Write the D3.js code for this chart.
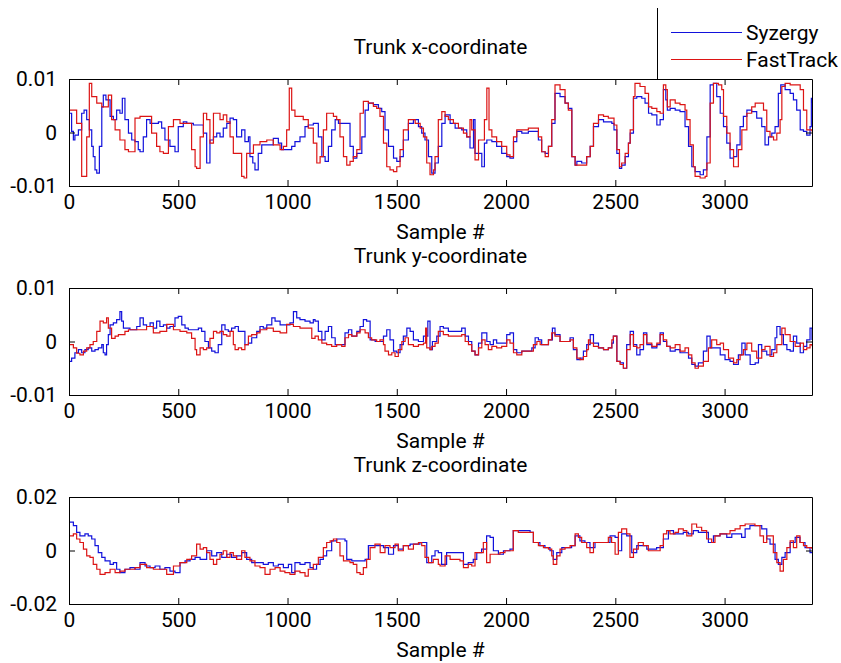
<!DOCTYPE html>
<html>
<head>
<meta charset="utf-8">
<script src="https://cdn.jsdelivr.net/npm/d3@7"></script>
<style>
  body { margin: 0; background: #fff; }
  svg { display: block; }
</style>
</head>
<body>
<svg id="chart" width="841" height="663"></svg>
<script>
// sample index ticks and y tick labels
var sampleTicks = [0, 500, 1000, 1500, 2000, 2500, 3000];
var sampleLabels = ["0", "500", "1000", "1500", "2000", "2500", "3000"];
var sampleMax = 3400;
var yTicksSmall = [-0.01, 0, 0.01];
var yLabelsSmall = ["-0.01", "0", "0.01"];
var yTicksLarge = [-0.02, 0, 0.02];
var yLabelsLarge = ["-0.02", "0", "0.02"];
var seriesNames = ["Syzergy", "FastTrack"];
var panelTitles = ["Trunk x-coordinate", "Trunk y-coordinate", "Trunk z-coordinate"];

// [sample, value]
var trunkXSyzergy = [[0,.0036],[12,.0002],[20,-.0014],[27,-.0005],[43,.0005],[58,.0036],[69,.0042],[81,.0024],[93,.0005],[104,-.0026],[111,-.0045],[119,-.0070],[127,-.0076],[139,-.0026],[150,.0048],[157,.0070],[169,.0061],[188,.0030],[203,.0024],[218,.0042],[233,.0036],[244,.0064],[256,.0024],[272,-.0001],[287,-.0014],[302,-.0017],[317,-.0032],[325,-.0036],[340,-.0008],[355,.0024],[371,.0017],[394,.0017],[409,.0020],[424,.0008],[439,-.0014],[462,-.0026],[485,-.0036],[500,.0011],[523,.0020],[539,.0017],[569,.0014],[600,.0014],[615,-.0001],[630,-.0057],[645,-.0014],[661,-.0008],[676,-.0001],[691,-.0008],[706,.0008],[722,.0017],[737,.0027],[752,.0024],[767,-.0008],[790,.0005],[805,-.0017],[821,-.0008],[828,-.0045],[841,-.0057],[851,-.0070],[866,-.0039],[882,-.0023],[905,-.0023],[935,-.0011],[958,-.0020],[973,-.0032],[996,-.0032],[1019,-.0026],[1034,-.0017],[1057,-.0008],[1080,.0011],[1095,.0014],[1118,.0017],[1126,.0017],[1141,-.0008],[1157,-.0045],[1172,-.0054],[1187,-.0026],[1202,.0005],[1218,.0024],[1233,.0017],[1271,.0017],[1286,-.0026],[1301,-.0048],[1317,-.0039],[1340,-.0008],[1355,.0042],[1370,.0055],[1393,.0052],[1416,.0045],[1431,.0039],[1446,.0005],[1462,-.0026],[1485,-.0048],[1500,-.0054],[1515,-.0045],[1530,-.0014],[1553,.0017],[1576,.0024],[1599,.0011],[1614,-.0001],[1629,-.0014],[1645,-.0045],[1660,-.0076],[1675,-.0057],[1690,-.0026],[1706,.0017],[1721,.0033],[1744,.0017],[1767,.0008],[1797,.0005],[1820,-.0008],[1835,-.0029],[1851,.0024],[1858,-.0039],[1874,-.0039],[1889,-.0064],[1901,-.0020],[1912,-.0014],[1935,-.0017],[1957,-.0026],[1980,-.0039],[2003,-.0045],[2018,-.0048],[2034,-.0017],[2049,.0002],[2072,-.0001],[2102,.0002],[2133,.0002],[2148,-.0014],[2163,-.0036],[2179,-.0039],[2194,-.0026],[2209,.0017],[2224,.0073],[2247,.0067],[2270,.0055],[2285,.0045],[2301,-.0045],[2316,-.0061],[2324,-.0054],[2346,-.0057],[2369,-.0045],[2385,-.0026],[2400,.0011],[2423,.0024],[2446,.0020],[2468,.0020],[2484,.0017],[2494,.0005],[2507,-.0039],[2519,-.0067],[2529,-.0061],[2545,-.0045],[2560,-.0020],[2568,-.0001],[2583,.0064],[2598,.0067],[2621,.0064],[2636,.0055],[2652,.0036],[2667,.0033],[2690,.0014],[2705,.0024],[2720,.0080],[2731,.0061],[2738,.0042],[2751,.0045],[2774,.0042],[2796,.0039],[2819,.0011],[2835,-.0026],[2850,-.0064],[2865,-.0073],[2888,-.0079],[2903,-.0070],[2919,-.0008],[2934,.0089],[2949,.0092],[2964,.0067],[2980,.0036],[2995,.0011],[3010,-.0020],[3025,-.0048],[3041,-.0045],[3056,-.0023],[3071,.0011],[3086,.0030],[3102,.0042],[3124,.0039],[3147,.0027],[3170,.0011],[3185,-.0023],[3201,-.0008],[3216,-.0001],[3231,.0011],[3246,.0073],[3257,.0089],[3277,.0080],[3300,.0073],[3315,.0061],[3330,.0042],[3346,.0005],[3361,.0002],[3376,-.0005],[3391,.0011],[3397,.0064],[3400,.0055]];
var trunkXFastTrack = [[0,.0042],[35,.0017],[58,-.0082],[69,-.0082],[81,-.0008],[93,.0092],[104,.0067],[127,.0055],[150,.0048],[180,.0070],[195,.0024],[211,.0005],[233,-.0014],[256,-.0032],[272,-.0036],[302,.0027],[325,.0030],[371,.0030],[378,-.0001],[401,-.0026],[416,-.0036],[432,-.0039],[455,.0011],[478,.0024],[508,.0017],[554,.0017],[561,-.0032],[577,-.0064],[584,-.0067],[600,-.0008],[615,.0036],[630,.0024],[645,-.0020],[661,.0036],[676,.0036],[691,.0024],[706,.0033],[722,.0020],[737,-.0008],[752,-.0039],[790,-.0082],[801,-.0085],[813,-.0039],[844,-.0023],[874,-.0017],[905,-.0014],[935,-.0023],[966,-.0032],[981,-.0026],[996,.0005],[1008,.0083],[1019,.0042],[1034,.0030],[1057,.0030],[1072,.0024],[1095,.0008],[1118,-.0020],[1134,-.0057],[1149,-.0045],[1164,.0005],[1179,.0036],[1195,.0036],[1210,.0030],[1225,.0024],[1240,-.0008],[1256,-.0045],[1271,-.0061],[1286,-.0054],[1301,-.0045],[1317,-.0032],[1332,.0036],[1347,.0058],[1370,.0055],[1393,.0049],[1408,.0045],[1423,.0030],[1439,-.0020],[1454,-.0064],[1469,-.0070],[1485,-.0073],[1500,-.0064],[1515,-.0032],[1530,.0005],[1553,.0024],[1568,.0024],[1584,.0017],[1607,.0008],[1622,-.0008],[1637,-.0057],[1652,-.0079],[1668,-.0070],[1675,-.0045],[1690,.0024],[1706,.0039],[1721,.0030],[1736,.0024],[1759,.0017],[1782,.0008],[1805,-.0001],[1820,-.0008],[1835,.0024],[1843,.0005],[1858,-.0051],[1874,-.0014],[1889,-.0014],[1901,.0024],[1912,.0083],[1922,.0005],[1935,-.0008],[1957,-.0017],[1980,-.0026],[2003,-.0042],[2018,-.0045],[2034,-.0008],[2049,.0005],[2072,.0005],[2102,.0008],[2133,.0008],[2148,-.0008],[2163,-.0036],[2179,-.0045],[2194,-.0026],[2209,.0024],[2224,.0089],[2247,.0080],[2270,.0055],[2285,.0042],[2301,-.0045],[2316,-.0061],[2346,-.0061],[2369,-.0045],[2385,-.0026],[2400,.0017],[2423,.0033],[2446,.0030],[2468,.0027],[2484,.0027],[2494,.0014],[2507,-.0032],[2519,-.0064],[2529,-.0057],[2545,-.0039],[2560,-.0020],[2568,.0005],[2583,.0067],[2590,.0092],[2613,.0086],[2636,.0073],[2652,.0048],[2667,.0045],[2690,.0039],[2705,.0036],[2720,.0089],[2731,.0080],[2738,.0048],[2751,.0061],[2774,.0055],[2796,.0052],[2819,.0042],[2827,.0024],[2842,-.0023],[2857,-.0064],[2865,-.0082],[2888,-.0085],[2911,-.0082],[2919,-.0057],[2934,.0055],[2949,.0092],[2972,.0089],[2987,.0080],[2995,.0030],[3010,-.0001],[3025,-.0032],[3041,-.0064],[3056,-.0064],[3063,-.0032],[3079,.0005],[3102,.0036],[3124,.0048],[3140,.0055],[3163,.0055],[3178,.0042],[3193,.0002],[3208,-.0008],[3224,-.0014],[3239,-.0001],[3254,.0024],[3262,.0086],[3277,.0092],[3300,.0089],[3330,.0089],[3346,.0080],[3361,.0042],[3376,.0005],[3391,.0005],[3400,.0002]];

var trunkYSyzergy = [[0,-.0037],[12,-.0031],[27,-.0021],[43,-.0015],[58,-.0021],[73,-.0015],[88,-.0012],[104,-.0018],[119,-.0015],[134,-.0012],[150,-.0006],[157,-.0021],[165,-.0025],[172,-.0006],[180,.0013],[188,.0031],[203,.0035],[218,.0041],[233,.0056],[241,.0038],[249,.0025],[264,.0025],[279,.0022],[294,.0022],[310,.0028],[325,.0044],[340,.0031],[355,.0028],[371,.0035],[386,.0025],[401,.0038],[416,.0028],[432,.0031],[447,.0025],[462,.0028],[485,.0044],[500,.0047],[516,.0031],[531,.0025],[546,.0022],[569,.0022],[592,.0025],[607,.0019],[622,.0000],[638,-.0012],[653,-.0018],[668,-.0021],[683,-.0006],[699,.0031],[714,.0022],[729,.0019],[744,.0025],[760,.0028],[775,.0019],[790,.0019],[805,-.0006],[821,-.0003],[836,.0007],[859,.0019],[874,.0028],[889,.0025],[905,.0031],[928,.0044],[943,.0038],[966,.0031],[996,.0031],[1011,.0035],[1027,.0056],[1042,.0044],[1057,.0041],[1080,.0038],[1103,.0035],[1118,.0041],[1126,.0038],[1141,.0019],[1157,.0003],[1172,.0019],[1187,.0028],[1202,.0007],[1218,-.0006],[1240,-.0006],[1263,.0016],[1279,.0022],[1294,.0010],[1317,.0019],[1332,.0028],[1347,.0041],[1362,.0038],[1378,.0003],[1401,.0000],[1423,.0000],[1439,.0010],[1454,.0022],[1469,.0003],[1485,-.0018],[1500,-.0021],[1515,-.0006],[1530,.0010],[1546,.0025],[1561,.0019],[1576,.0003],[1599,.0000],[1622,.0010],[1642,.0038],[1652,-.0015],[1663,.0000],[1683,.0010],[1698,.0028],[1713,.0025],[1736,.0019],[1767,.0019],[1797,.0025],[1813,.0010],[1828,.0000],[1843,-.0018],[1858,-.0025],[1874,-.0003],[1889,.0016],[1912,.0000],[1927,-.0006],[1942,.0003],[1957,-.0003],[1980,-.0003],[2003,.0013],[2018,.0016],[2034,-.0015],[2049,-.0021],[2072,-.0018],[2102,-.0018],[2118,-.0012],[2133,.0007],[2148,.0003],[2163,-.0006],[2194,.0003],[2212,.0025],[2224,.0013],[2247,.0000],[2270,.0000],[2293,.0007],[2308,-.0015],[2324,-.0034],[2339,-.0031],[2354,-.0018],[2369,-.0006],[2385,.0013],[2400,-.0003],[2423,-.0012],[2446,-.0015],[2468,-.0012],[2484,-.0003],[2491,.0010],[2507,-.0037],[2522,-.0040],[2537,-.0050],[2552,-.0006],[2568,.0019],[2583,-.0006],[2598,-.0025],[2613,-.0015],[2629,.0016],[2644,-.0006],[2667,-.0012],[2690,-.0006],[2705,.0016],[2720,.0000],[2735,-.0009],[2751,-.0018],[2774,-.0015],[2796,-.0021],[2819,-.0021],[2835,-.0031],[2850,-.0043],[2865,-.0046],[2880,-.0040],[2903,-.0018],[2919,.0010],[2934,-.0012],[2957,-.0012],[2980,-.0025],[3002,-.0034],[3025,-.0037],[3041,-.0043],[3063,-.0025],[3079,-.0003],[3094,-.0025],[3117,-.0043],[3140,-.0040],[3155,-.0006],[3170,-.0018],[3193,-.0025],[3216,-.0015],[3231,.0007],[3239,.0028],[3254,.0013],[3269,-.0006],[3285,-.0015],[3300,-.0018],[3315,.0010],[3330,-.0003],[3346,-.0021],[3361,-.0009],[3376,.0003],[3391,.0025],[3400,.0003]];
var trunkYFastTrack = [[0,-.0006],[20,-.0012],[35,-.0022],[50,-.0025],[66,-.0018],[81,-.0012],[96,-.0006],[111,.0000],[127,.0019],[142,.0038],[157,.0035],[172,.0044],[180,.0025],[195,.0006],[211,.0010],[226,.0013],[241,.0013],[256,.0019],[272,.0022],[294,.0022],[325,.0022],[355,.0028],[386,.0016],[416,.0019],[447,.0032],[478,.0022],[508,.0019],[539,.0016],[561,.0006],[577,-.0015],[584,-.0025],[600,-.0012],[615,-.0015],[630,-.0012],[645,.0006],[661,.0019],[676,.0016],[691,.0019],[706,.0013],[722,.0010],[737,.0019],[752,-.0006],[760,-.0015],[775,-.0012],[790,-.0015],[805,-.0006],[821,.0010],[836,.0013],[859,.0016],[874,.0022],[905,.0025],[935,.0019],[966,.0016],[996,.0032],[1027,.0028],[1057,.0025],[1088,.0025],[1111,.0006],[1126,.0010],[1141,.0003],[1157,-.0003],[1179,-.0006],[1202,-.0009],[1225,-.0006],[1248,-.0009],[1263,.0007],[1279,.0013],[1294,.0010],[1317,.0016],[1332,.0022],[1355,.0016],[1370,.0007],[1385,.0003],[1408,.0000],[1423,.0003],[1439,-.0006],[1446,-.0018],[1462,-.0025],[1477,-.0021],[1492,-.0028],[1507,-.0015],[1523,.0000],[1538,.0007],[1553,-.0006],[1576,-.0009],[1599,-.0006],[1622,-.0003],[1632,.0025],[1637,-.0012],[1652,-.0015],[1660,-.0009],[1675,-.0003],[1690,.0019],[1713,.0013],[1736,.0010],[1767,.0010],[1797,.0013],[1813,.0000],[1828,-.0006],[1843,-.0018],[1858,-.0025],[1874,-.0012],[1889,.0003],[1904,-.0006],[1919,-.0015],[1935,-.0009],[1957,-.0012],[1980,-.0009],[2003,.0003],[2018,-.0003],[2034,-.0021],[2049,-.0025],[2072,-.0018],[2102,-.0018],[2125,-.0006],[2141,.0000],[2156,-.0006],[2179,-.0006],[2194,.0003],[2209,.0016],[2224,.0010],[2247,.0000],[2270,.0000],[2293,.0003],[2308,-.0012],[2324,-.0031],[2339,-.0034],[2354,-.0028],[2369,-.0015],[2377,.0003],[2385,-.0003],[2400,-.0009],[2423,-.0012],[2446,-.0015],[2468,-.0012],[2484,.0003],[2491,.0010],[2507,-.0037],[2522,-.0043],[2537,-.0050],[2552,-.0015],[2568,.0013],[2583,-.0009],[2598,-.0012],[2613,-.0006],[2629,.0013],[2644,-.0003],[2667,-.0009],[2690,-.0003],[2705,.0013],[2720,.0003],[2735,-.0009],[2751,-.0012],[2774,-.0006],[2796,-.0018],[2819,-.0012],[2835,-.0025],[2850,-.0040],[2865,-.0050],[2880,-.0046],[2903,-.0037],[2926,-.0012],[2941,.0003],[2964,-.0006],[2980,-.0003],[2995,-.0015],[3018,-.0031],[3041,-.0040],[3056,-.0034],[3071,-.0025],[3086,-.0015],[3102,-.0003],[3124,-.0018],[3147,-.0031],[3170,-.0015],[3185,-.0009],[3208,-.0028],[3224,-.0021],[3239,-.0006],[3262,.0025],[3277,.0013],[3300,.0000],[3323,-.0009],[3346,-.0003],[3361,-.0015],[3376,-.0012],[3391,-.0006],[3400,-.0009]];

var trunkZSyzergy = [[0,.0106],[20,.0093],[35,.0068],[50,.0055],[73,.0062],[88,.0055],[104,.0043],[119,.0018],[134,-.0008],[150,-.0026],[165,-.0039],[188,-.0052],[203,-.0045],[218,-.0070],[233,-.0083],[256,-.0070],[279,-.0064],[302,-.0070],[325,-.0045],[348,-.0058],[371,-.0064],[394,-.0058],[416,-.0070],[439,-.0064],[462,-.0077],[485,-.0083],[508,-.0045],[531,-.0039],[554,-.0033],[577,-.0026],[600,-.0033],[630,-.0001],[653,-.0020],[676,-.0008],[699,-.0026],[722,-.0014],[744,-.0026],[767,-.0020],[790,-.0008],[813,-.0033],[836,-.0045],[859,-.0045],[889,-.0052],[912,-.0045],[935,-.0058],[958,-.0052],[981,-.0064],[1004,-.0052],[1019,-.0083],[1034,-.0045],[1057,-.0052],[1080,-.0045],[1103,-.0064],[1118,-.0070],[1133,-.0052],[1149,-.0033],[1164,-.0020],[1179,-.0001],[1202,.0036],[1225,.0043],[1248,.0043],[1263,.0036],[1271,-.0033],[1294,-.0039],[1317,-.0039],[1339,-.0039],[1355,-.0033],[1370,.0018],[1393,.0018],[1416,.0018],[1439,.0011],[1462,-.0014],[1485,.0018],[1507,.0005],[1530,.0018],[1561,.0024],[1584,.0024],[1606,.0030],[1622,.0030],[1637,-.0045],[1660,-.0020],[1675,-.0001],[1690,-.0008],[1705,-.0052],[1728,-.0008],[1759,-.0008],[1789,-.0008],[1805,-.0052],[1827,-.0045],[1850,-.0033],[1866,-.0008],[1888,.0005],[1911,.0055],[1927,.0049],[1942,-.0001],[1965,-.0014],[1988,-.0001],[2018,.0005],[2033,.0074],[2056,.0074],[2087,.0074],[2110,.0068],[2125,.0030],[2155,.0018],[2178,.0011],[2201,-.0001],[2216,-.0033],[2232,-.0008],[2255,.0011],[2278,.0011],[2300,.0018],[2316,.0055],[2338,.0036],[2361,.0030],[2384,.0011],[2407,.0030],[2430,.0030],[2453,.0030],[2476,.0055],[2499,.0049],[2514,-.0001],[2529,.0062],[2552,.0055],[2575,-.0008],[2598,.0018],[2621,.0018],[2644,.0005],[2667,.0005],[2689,.0011],[2720,.0043],[2743,.0074],[2766,.0062],[2789,.0062],[2811,.0068],[2834,.0062],[2857,.0074],[2880,.0068],[2903,.0068],[2926,.0030],[2949,.0055],[2979,.0062],[3010,.0049],[3033,.0062],[3056,.0062],[3078,.0049],[3094,.0081],[3116,.0093],[3147,.0093],[3170,.0081],[3193,.0043],[3208,.0024],[3231,-.0033],[3246,-.0052],[3262,-.0026],[3277,-.0008],[3300,.0030],[3323,.0049],[3345,.0030],[3368,.0011],[3391,-.0008],[3400,-.0010]];
var trunkZFastTrack = [[0,.0055],[20,.0062],[35,.0043],[50,.0030],[66,.0005],[81,-.0020],[96,-.0026],[111,-.0052],[127,-.0070],[142,-.0089],[165,-.0083],[188,-.0070],[211,-.0083],[233,-.0077],[256,-.0070],[279,-.0070],[302,-.0064],[325,-.0052],[355,-.0064],[386,-.0070],[416,-.0070],[447,-.0089],[478,-.0058],[508,-.0045],[539,-.0033],[561,-.0020],[584,.0024],[600,.0005],[615,.0011],[630,-.0008],[645,-.0033],[661,-.0052],[676,-.0033],[691,-.0014],[706,-.0001],[722,-.0026],[737,-.0008],[752,-.0020],[767,-.0033],[790,-.0001],[805,-.0026],[828,-.0039],[851,-.0058],[874,-.0064],[897,-.0089],[920,-.0070],[943,-.0064],[966,-.0077],[988,-.0083],[1011,-.0089],[1034,-.0077],[1057,-.0083],[1080,-.0096],[1095,-.0070],[1118,-.0052],[1141,-.0026],[1164,.0011],[1179,.0030],[1195,.0036],[1210,.0043],[1225,.0030],[1240,-.0020],[1256,-.0039],[1271,-.0039],[1286,-.0045],[1301,-.0052],[1317,-.0083],[1332,-.0089],[1347,-.0064],[1362,-.0033],[1378,.0011],[1400,.0024],[1424,-.0008],[1446,.0018],[1469,.0011],[1492,.0024],[1507,-.0001],[1530,.0018],[1553,.0005],[1576,.0024],[1599,.0030],[1614,.0018],[1629,-.0026],[1645,-.0045],[1667,-.0033],[1690,-.0052],[1698,-.0058],[1721,-.0020],[1744,-.0033],[1766,-.0033],[1789,-.0039],[1805,-.0064],[1827,-.0052],[1843,-.0058],[1858,-.0008],[1881,-.0008],[1896,.0030],[1911,-.0045],[1927,-.0014],[1950,-.0014],[1972,-.0008],[1995,-.0001],[2018,-.0001],[2033,.0074],[2056,.0068],[2079,.0068],[2110,.0068],[2125,.0030],[2148,.0018],[2171,.0011],[2194,.0005],[2209,-.0020],[2216,-.0052],[2232,-.0020],[2247,.0005],[2270,.0011],[2293,.0018],[2316,.0062],[2331,.0049],[2346,.0030],[2369,.0011],[2384,-.0008],[2400,.0030],[2422,.0030],[2445,.0030],[2468,.0049],[2483,.0030],[2499,-.0014],[2514,.0068],[2529,.0081],[2552,.0062],[2567,-.0026],[2583,.0005],[2605,.0030],[2628,.0018],[2651,-.0001],[2674,-.0001],[2705,.0018],[2720,.0062],[2735,.0074],[2750,.0062],[2773,.0068],[2789,.0081],[2811,.0074],[2827,.0055],[2850,.0099],[2872,.0087],[2895,.0074],[2918,.0043],[2941,.0030],[2956,.0055],[2979,.0062],[3002,.0062],[3025,.0074],[3048,.0081],[3071,.0093],[3094,.0099],[3116,.0099],[3139,.0093],[3162,.0055],[3178,.0030],[3193,.0055],[3208,.0055],[3223,-.0008],[3239,-.0045],[3254,-.0077],[3269,-.0033],[3285,.0011],[3300,.0036],[3315,.0011],[3330,.0055],[3345,.0030],[3361,.0018],[3376,.0011],[3400,.0005]];

var colors = { Syzergy: "#1212dc", FastTrack: "#dc1414" };
var fontFamily = "Roboto, 'Liberation Sans', Arial, sans-serif";
var fontSize = 21;

var svg = d3.select("#chart");
svg.append("rect").attr("width", 841).attr("height", 663).attr("fill", "#fff");

var left = 69, right = 812, plotH = 107;
var panels = [
    { title: panelTitles[0], top: 79,  yTicks: yTicksSmall, yLabels: yLabelsSmall, series: [trunkXSyzergy, trunkXFastTrack] },
    { title: panelTitles[1], top: 288, yTicks: yTicksSmall, yLabels: yLabelsSmall, series: [trunkYSyzergy, trunkYFastTrack] },
    { title: panelTitles[2], top: 497, yTicks: yTicksLarge, yLabels: yLabelsLarge, series: [trunkZSyzergy, trunkZFastTrack] }
];

var x = d3.scaleLinear().domain([0, sampleMax]).range([left, right]);

function styleAxis(g) {
    g.attr("font-family", fontFamily).attr("font-size", fontSize);
    g.selectAll(".domain").attr("stroke", "#000");
    g.selectAll(".tick line").attr("stroke", "#000");
    g.selectAll(".tick text").attr("fill", "#000");
}

panels.forEach(function(p, pi) {
    var bottom = p.top + plotH;
    var y = d3.scaleLinear().domain([p.yTicks[0], p.yTicks[2]]).range([bottom, p.top]);
    var g = svg.append("g");

    var clipId = "clip" + pi;
    g.append("clipPath").attr("id", clipId)
        .append("rect").attr("x", left).attr("y", p.top).attr("width", right - left).attr("height", plotH);

    // the recorded signals hold their value between samples, so draw them as stairs
    var line = d3.line()
        .curve(d3.curveStepAfter)
        .x(function(d) { return x(d[0]); })
        .y(function(d) { return y(d[1]); });

    g.append("g").attr("clip-path", "url(#" + clipId + ")")
        .selectAll("path")
        .data(p.series)
        .enter()
        .append("path")
        .attr("d", line)
        .attr("fill", "none")
        .attr("stroke", function(d, i) { return colors[seriesNames[i]]; })
        .attr("stroke-width", 1.2);

    // box with inward ticks
    g.append("g").attr("transform", "translate(0," + bottom + ")")
        .call(d3.axisBottom(x).tickValues(sampleTicks).tickSizeInner(-6).tickSizeOuter(0).tickPadding(8)
            .tickFormat(function(d, i) { return sampleLabels[i]; }))
        .call(styleAxis);
    g.append("g").attr("transform", "translate(0," + p.top + ")")
        .call(d3.axisTop(x).tickValues(sampleTicks).tickSizeInner(-6).tickSizeOuter(0).tickFormat(""))
        .call(styleAxis);
    g.append("g").attr("transform", "translate(" + left + ",0)")
        .call(d3.axisLeft(y).tickValues(p.yTicks).tickSizeInner(-6).tickSizeOuter(0).tickPadding(12)
            .tickFormat(function(d, i) { return p.yLabels[i]; }))
        .call(styleAxis);
    g.append("g").attr("transform", "translate(" + right + ",0)")
        .call(d3.axisRight(y).tickValues(p.yTicks).tickSizeInner(-6).tickSizeOuter(0).tickFormat(""))
        .call(styleAxis);

    g.append("text")
        .attr("x", (left + right) / 2).attr("y", p.top - 25)
        .attr("text-anchor", "middle")
        .attr("font-family", fontFamily).attr("font-size", fontSize)
        .text(p.title);

    g.append("text")
        .attr("x", (left + right) / 2).attr("y", bottom + 53)
        .attr("text-anchor", "middle")
        .attr("font-family", fontFamily).attr("font-size", fontSize)
        .text("Sample #");
});

// legend (partly off the figure, as in the original)
var legend = svg.append("g");
legend.append("rect")
    .attr("x", 657.5).attr("y", 8).attr("width", 200).attr("height", 71)
    .attr("fill", "#fff").attr("stroke", "none");
legend.append("line")
    .attr("x1", 657.5).attr("x2", 657.5).attr("y1", 8).attr("y2", 79)
    .attr("stroke", "#000");
var legendRows = legend.selectAll("g.row")
    .data(seriesNames)
    .enter().append("g")
    .attr("class", "row")
    .attr("transform", function(d, i) { return "translate(0," + (32.5 + i * 27) + ")"; });
legendRows.append("line")
    .attr("x1", 671).attr("x2", 742).attr("y1", 0).attr("y2", 0)
    .attr("stroke", function(d) { return colors[d]; })
    .attr("stroke-width", 1.2);
legendRows.append("text")
    .attr("x", 746).attr("y", 0).attr("dy", "0.35em")
    .attr("font-family", fontFamily).attr("font-size", fontSize)
    .text(function(d) { return d; });
</script>
</body>
</html>
